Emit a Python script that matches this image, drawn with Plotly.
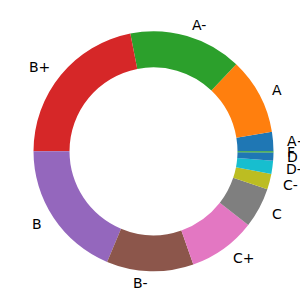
import math
import plotly.graph_objects as go

grades = ["A+", "A", "A-", "B+", "B", "B-", "C+", "C", "C-", "D-", "D", "F"]
shares = [2.6, 10.3, 15.2, 21.9, 18.7, 11.7, 9.1, 5.4, 2.1, 1.75, 1.1, 0.17]
colors = ["#1f77b4", "#ff7f0e", "#2ca02c", "#d62728", "#9467bd", "#8c564b",
          "#e377c2", "#7f7f7f", "#bcbd22", "#17becf", "#1f77b4", "#2ca02c"]

W = H = 300
cx, cy, R = 153.5, 151.3, 120.0
total = sum(shares)

fig = go.Figure(go.Pie(
    labels=grades, values=shares, sort=False, direction="counterclockwise",
    rotation=90 - shares[0] / total * 360, hole=0.7, textinfo="none", hoverinfo="skip",
    marker=dict(colors=colors, line=dict(width=0)),
    domain=dict(x=[(cx - R) / W, (cx + R) / W], y=[1 - (cy + R) / H, 1 - (cy - R) / H]),
    showlegend=False,
))

annots = []
cum = 0.0
for g, v in zip(grades, shares):
    mid = (cum + v / 2) / total * 2 * math.pi
    cum += v
    x = cx + 1.1 * R * math.cos(mid)
    y = cy - 1.1 * R * math.sin(mid)
    annots.append(dict(
        x=x / W, y=1 - y / H, xref="paper", yref="paper", text=g, showarrow=False,
        xanchor="left" if math.cos(mid) > 0 else "right", yanchor="middle",
        font=dict(family="DejaVu Sans", size=14, color="black"),
    ))

fig.update_layout(
    width=W, height=H, margin=dict(l=0, r=0, t=0, b=0),
    paper_bgcolor="white", plot_bgcolor="white", annotations=annots,
)
fig.write_html("out.html")
